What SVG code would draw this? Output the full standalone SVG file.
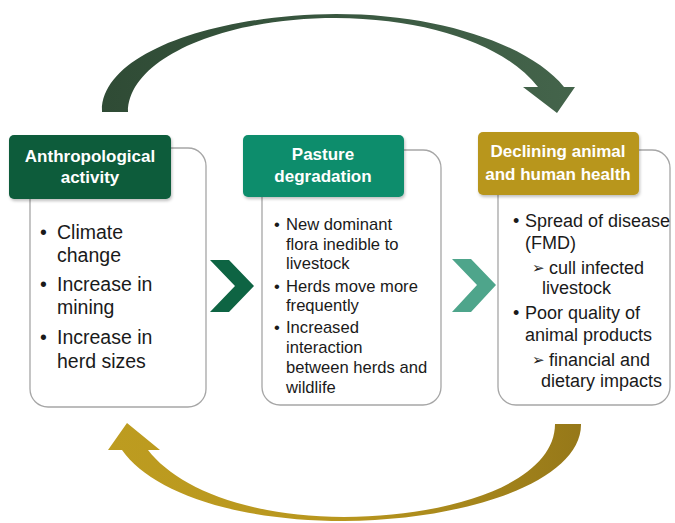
<svg xmlns="http://www.w3.org/2000/svg" width="675" height="523" viewBox="0 0 675 523">
<defs>
<linearGradient id="gTop" x1="0" y1="0" x2="1" y2="0">
<stop offset="0" stop-color="#2f4b35"/>
<stop offset="1" stop-color="#44644b"/>
</linearGradient>
<linearGradient id="gBot" x1="0" y1="0" x2="1" y2="0">
<stop offset="0" stop-color="#bd9c20"/>
<stop offset="0.5" stop-color="#b8961e"/>
<stop offset="1" stop-color="#967819"/>
</linearGradient>
<filter id="sh" x="-10%" y="-10%" width="130%" height="140%">
<feDropShadow dx="1" dy="2" stdDeviation="1.5" flood-color="#000" flood-opacity="0.25"/>
</filter>
</defs>
<style>
.card{fill:#ffffff;stroke:#a6a6a6;stroke-width:1.3}
.hd{font-family:"Liberation Sans",Arial,sans-serif;font-weight:bold;font-size:17px;fill:#ffffff;text-anchor:middle}
.t1{font-family:"Liberation Sans",Arial,sans-serif;font-size:19.5px;fill:#1a1a1a}
.t2{font-family:"Liberation Sans",Arial,sans-serif;font-size:16.6px;fill:#1a1a1a}
.t3{font-family:"Liberation Sans",Arial,sans-serif;font-size:18px;fill:#1a1a1a}
.ar{font-family:"DejaVu Sans",sans-serif;font-size:15px;font-weight:bold;fill:#1a1a1a}
</style>
<rect width="675" height="523" fill="#ffffff"/>
<g id="connectors">
<path d="M102,112 C100,55 210,15 336,14 C440,14 530,45 564,87 L575,87 L557,113 L523,87 L538,87 C505,45 430,19 336,18 C220,18 128,60 128,112 Z" fill="url(#gTop)"/>
<path d="M581,424 C582,480 470,520 344,521 C230,521 150,490 122,450 L108,450 L127,423 L160,450 L148,450 C175,485 240,516 344,517 C460,516 555,480 555,424 Z" fill="url(#gBot)"/>
<polygon points="210,260 229,260 254,286 229,312 210,312 235,286" fill="#0e6443"/>
<polygon points="452,259 471,259 496,285 471,312 452,312 477,285" fill="#4ea58b"/>
</g>
<g id="anthropological">
<rect class="card" x="30" y="148" width="176" height="259" rx="18"/>
<rect x="9" y="135" width="162" height="64" rx="5" fill="#0b5c3b" filter="url(#sh)"/>
<text class="hd" x="90" y="162">Anthropological</text>
<text class="hd" x="90" y="183">activity</text>
<text class="t1"><tspan x="40" y="239">•</tspan><tspan x="57" y="239">Climate</tspan><tspan x="57" y="262">change</tspan><tspan x="40" y="291">•</tspan><tspan x="57" y="291">Increase in</tspan><tspan x="57" y="314">mining</tspan><tspan x="40" y="344">•</tspan><tspan x="57" y="344">Increase in</tspan><tspan x="57" y="368">herd sizes</tspan></text>
</g>
<g id="pasture">
<rect class="card" x="262" y="150" width="179" height="255" rx="18"/>
<rect x="243" y="135" width="161" height="62" rx="5" fill="#0f8d6c" filter="url(#sh)"/>
<text class="hd" x="323" y="160">Pasture</text>
<text class="hd" x="323" y="182">degradation</text>
<text class="t2"><tspan x="274" y="230">•</tspan><tspan x="286" y="230">New dominant</tspan><tspan x="286" y="250">flora inedible to</tspan><tspan x="286" y="269">livestock</tspan><tspan x="274" y="292">•</tspan><tspan x="286" y="292">Herds move more</tspan><tspan x="286" y="311">frequently</tspan><tspan x="274" y="333">•</tspan><tspan x="286" y="333">Increased</tspan><tspan x="286" y="353">interaction</tspan><tspan x="286" y="373">between herds and</tspan><tspan x="286" y="393">wildlife</tspan></text>
</g>
<g id="declining">
<rect class="card" x="498" y="150" width="172" height="255" rx="18"/>
<rect x="478" y="132" width="161" height="63" rx="5" fill="#b8961f" filter="url(#sh)"/>
<text class="hd" x="558" y="157">Declining animal</text>
<text class="hd" x="558" y="180">and human health</text>
<text class="t3"><tspan x="513" y="227">•</tspan><tspan x="525" y="227">Spread of disease</tspan><tspan x="525" y="249">(FMD)</tspan><tspan x="549" y="274">cull infected</tspan><tspan x="542" y="294">livestock</tspan><tspan x="513" y="319">•</tspan><tspan x="525" y="319">Poor quality of</tspan><tspan x="525" y="341">animal products</tspan><tspan x="549" y="366">financial and</tspan><tspan x="541" y="387">dietary impacts</tspan></text>
<text class="ar"><tspan x="532" y="273">➢</tspan><tspan x="532" y="365">➢</tspan></text>
</g>
</svg>
